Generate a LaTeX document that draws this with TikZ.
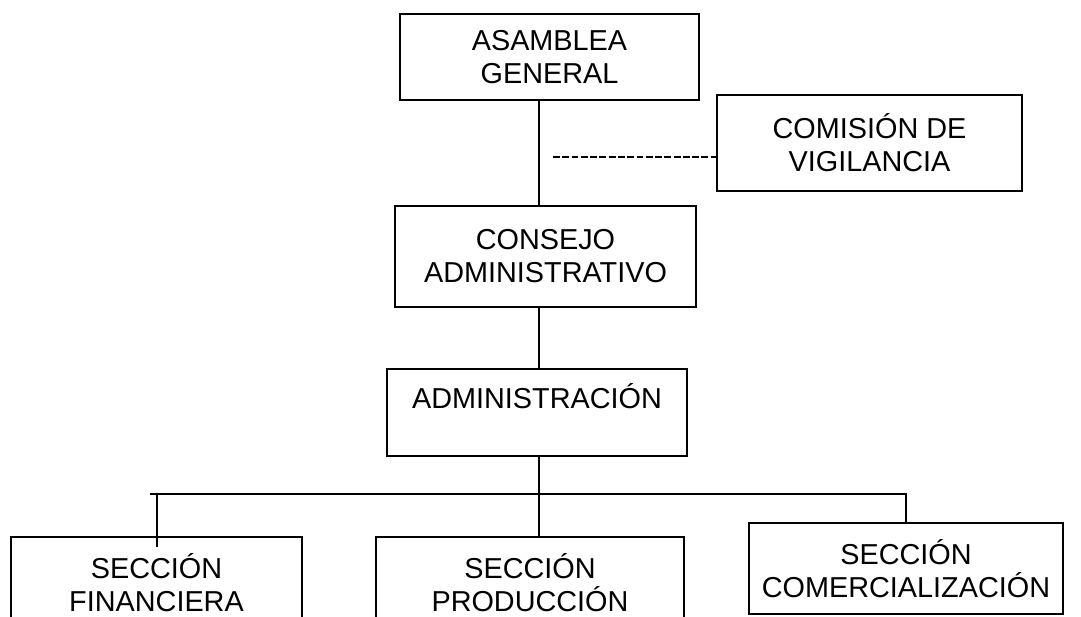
\documentclass[tikz,border=0pt]{standalone}
\usepackage{fontspec}
\setmainfont{Liberation Sans}
\usetikzlibrary{positioning}
\tikzset{
  unitbox/.style={draw, line width=0.045cm, align=center, inner sep=0pt,
    font=\fontsize{20.5}{23.5}\selectfont},
  orgline/.style={line width=0.045cm},
  dashline/.style={line width=0.05cm, dash pattern=on 4.9pt off 1.7pt}
}
\begin{document}
\begin{tikzpicture}
                        \useasboundingbox (0,0) rectangle (27.025000,15.425000);
                        \clip (0,0) rectangle (27.025000,15.425000);

                        % Marking box ASAMBLEA GENERAL
                        \node [unitbox, minimum width=7.475cm, minimum height=2.150cm] (asamblea) at (13.737500,14.000000) {ASAMBLEA\\GENERAL};%

                        % Marking box COMISION DE VIGILANCIA
                        \node [unitbox, minimum width=7.625cm, minimum height=2.400cm] (comision) at (21.737500,11.850000) {COMISIÓN DE\\VIGILANCIA};%

                        % Marking box CONSEJO ADMINISTRATIVO
                        \node [unitbox, minimum width=7.525cm, minimum height=2.525cm] (consejo) at (13.637500,9.012500) {CONSEJO\\ADMINISTRATIVO};%

                        % Marking box ADMINISTRACION
                        \node [unitbox, minimum width=7.500cm, minimum height=2.175cm] (admin) at (13.425000,5.112500) {ADMINISTRACIÓN\\\mbox{}};%

                        % Marking sections
                        \node [unitbox, minimum width=7.275cm, minimum height=2.275cm] (financiera) at (3.912500,0.862500) {SECCIÓN\\FINANCIERA};%
                        \node [unitbox, minimum width=7.700cm, minimum height=2.275cm] (produccion) at (13.250000,0.862500) {SECCIÓN\\PRODUCCIÓN};%
                        \node [unitbox, minimum width=7.850cm, minimum height=2.275cm] (comercial) at (22.650000,1.212500) {SECCIÓN\\COMERCIALIZACIÓN};%

                        % Points of the lines
                        \coordinate (trunk) at (13.475000,3.075000);
                        \coordinate (busleft) at (3.750000,3.075000);
                        \coordinate (finstub) at (3.925000,1.750000);
                        \coordinate (dashstart) at (13.825000,11.500000);

                        % Drawing segment asamblea consejo
                        \draw [orgline] (asamblea.south -| trunk) -- (consejo.north -| trunk);%

                        % Drawing dashed segment to comision
                        \draw [dashline] (dashstart) -- (dashstart -| comision.west);%

                        % Drawing segment consejo admin
                        \draw [orgline] (consejo.south -| trunk) -- (admin.north -| trunk);%

                        % Drawing segment admin bus
                        \draw [orgline] (admin.south -| trunk) -- (trunk);%

                        % Drawing bus and drops
                        \draw [orgline] (busleft) -- (trunk -| comercial.north) -- (comercial.north);%
                        \draw [orgline] (busleft -| finstub) -- (finstub);%
                        \draw [orgline] (trunk) -- (trunk |- produccion.north);%
\end{tikzpicture}
\end{document}
